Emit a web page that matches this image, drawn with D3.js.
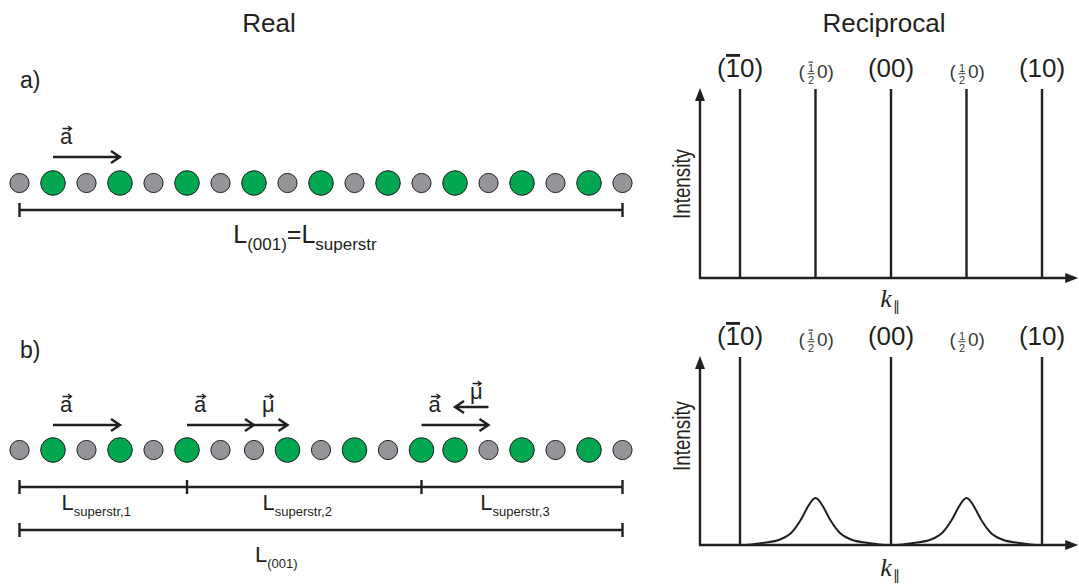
<!DOCTYPE html>
<html>
<head>
<meta charset="utf-8">
<script src="https://cdn.jsdelivr.net/npm/d3@7"></script>
<style>
  body { margin: 0; background: #fff; }
  svg { display: block; }
</style>
</head>
<body>
<svg id="fig" width="1079" height="584"></svg>
<script>
// ---------- data ----------
// site occupation along the chain: 0 = small grey atom, 1 = large green atom
const sitesA = [0, 1, 0, 1, 0, 1, 0, 1, 0, 1, 0, 1, 0, 1, 0, 1, 0, 1, 0];
const sitesB = [0, 1, 0, 1, 0, 1, 0, 0, 1, 0, 1, 0, 1, 1, 0, 1, 0, 1, 0];
// superstructure domain boundaries (site index) in the faulted chain
const domainBounds = [0, 5, 12, 18];
const domainNames = ["superstr,1", "superstr,2", "superstr,3"];
// translation vectors drawn above each chain (from site, to site, symbol)
const vectorsA = [{ from: 1, to: 3, sym: "a" }];
const vectorsB = [
  { from: 1, to: 3, sym: "a" },
  { from: 5, to: 7, sym: "a" },
  { from: 7, to: 8, sym: "\u03bc" },
  { from: 12, to: 14, sym: "a" },
  { from: 14, to: 13, sym: "\u03bc", raised: true }
];
// reciprocal-space rods, k in reciprocal lattice units
const rodK = [-1, -0.5, 0, 0.5, 1];
const rodH = ["1", "1", "0", "1", "1"];
const rodNegative = [true, true, false, false, false];
const rodHalf = [false, true, false, true, false];
const rodIntensityA = [1, 1, 1, 1, 1];
const rodIntensityB = [1, 0, 1, 0, 1];
// diffuse half-order peaks of the faulted chain
const diffuseK = [-0.5, 0.5];
const diffuseOffset = [-0.46, -0.34, -0.24, -0.16, -0.1, -0.06, -0.03, 0, 0.03, 0.06, 0.1, 0.16, 0.24, 0.34, 0.46];
const diffuseValue  = [0, 0.012, 0.028, 0.065, 0.13, 0.19, 0.23, 0.25, 0.23, 0.19, 0.13, 0.065, 0.028, 0.012, 0];
const kExtent = [-1.265, 1.24];
const intensityTop = 1;

// ---------- setup ----------
const svg = d3.select("#fig");
const ink = "#231f20";
const sans = "'Liberation Sans', Arial, sans-serif";
const serif = "'Liberation Serif', 'Times New Roman', serif";

function label(x, y, txt, size, opts = {}) {
  return svg.append("text")
    .attr("x", x).attr("y", y)
    .attr("font-family", opts.family || sans)
    .attr("font-size", size)
    .attr("text-anchor", opts.anchor || "start")
    .attr("fill", opts.fill || ink)
    .text(txt);
}

// titles
label(269, 32, "Real", 26, { anchor: "middle" });
label(884, 32, "Reciprocal", 26, { anchor: "middle" });
label(20, 88, "a)", 23);
label(20, 358, "b)", 23);

// ---------- real space ----------
const xSite = d3.scaleLinear().domain([0, sitesA.length - 1]).range([19.5, 622.5]);
const atomR = d3.scaleOrdinal().domain([0, 1]).range([9.6, 12.3]);
const atomFill = d3.scaleOrdinal().domain([0, 1]).range(["#939598", "#00a650"]);

function chain(sites, y) {
  svg.append("g").selectAll("circle").data(sites).join("circle")
    .attr("cx", (d, i) => xSite(i))
    .attr("cy", y)
    .attr("r", d => atomR(d))
    .attr("fill", d => atomFill(d))
    .attr("stroke", ink)
    .attr("stroke-width", 1);
}

function openArrow(x1, x2, y) {
  const dir = Math.sign(x2 - x1), h = 9, w = 6;
  svg.append("path")
    .attr("d", `M${x1},${y}H${x2}M${x2 - dir * h},${y - w}L${x2},${y}L${x2 - dir * h},${y + w}`)
    .attr("fill", "none").attr("stroke", ink).attr("stroke-width", 2.4);
}

function vecSymbol(x, y, sym) {
  const t = label(x, y, sym, 22);
  const b = t.node().getBBox();
  const ay = y - 15.5, x0 = b.x + 2.5, x1 = b.x + b.width - 1.5;
  svg.append("path")
    .attr("d", `M${x0},${ay}H${x1}M${x1 - 3.5},${ay - 2.6}L${x1},${ay}L${x1 - 3.5},${ay + 2.6}`)
    .attr("fill", "none").attr("stroke", ink).attr("stroke-width", 1.3);
}

function vectors(list, y) {
  list.forEach(v => {
    const ay = v.raised ? y - 18 : y;
    openArrow(xSite(v.from), xSite(v.to), ay);
    let lx;
    if (v.raised) lx = xSite(v.to) + 15;
    else if (v.sym === "a") lx = xSite(v.from) + 7;
    else lx = xSite(v.from) + 8;
    vecSymbol(lx, v.raised ? ay - 8 : ay - 13, v.sym);
  });
}

function scaleBar(bounds, y) {
  let d = `M${xSite(bounds[0])},${y}H${xSite(bounds[bounds.length - 1])}`;
  bounds.forEach(b => { d += `M${xSite(b)},${y - 7}V${y + 7}`; });
  svg.append("path").attr("d", d).attr("fill", "none").attr("stroke", ink).attr("stroke-width", 2.4);
}

// length label: alternating normal / subscript parts
function lengthLabel(x, y, parts, anchor, big = 22, small = 13, shift = 6) {
  const t = svg.append("text")
    .attr("x", x).attr("y", y)
    .attr("font-family", sans).attr("fill", ink)
    .attr("text-anchor", anchor);
  let shifted = false;
  parts.forEach(([s, sub]) => {
    const dy = sub && !shifted ? shift : (!sub && shifted ? -shift : 0);
    shifted = sub;
    t.append("tspan").attr("dy", dy).attr("font-size", sub ? small : big).text(s);
  });
  return t;
}

// a) ordered chain
chain(sitesA, 183);
vectors(vectorsA, 157);
scaleBar([0, sitesA.length - 1], 210);
lengthLabel(305, 243, [["L", false], ["(001)", true], ["=L", false], ["superstr", true]], "middle", 25, 17, 6.5);

// b) chain with stacking faults
chain(sitesB, 450);
vectors(vectorsB, 425);
scaleBar(domainBounds, 487);
domainNames.forEach((n, i) => {
  const mid = (xSite(domainBounds[i]) + xSite(domainBounds[i + 1])) / 2;
  lengthLabel(mid - 7, 510, [["L", false], [n, true]], "middle");
});
scaleBar([0, sitesB.length - 1], 530);
lengthLabel(xSite(7) + 1, 562, [["L", false], ["(001)", true]], "start");

// ---------- reciprocal space ----------
const xk = d3.scaleLinear().domain([-1, 1]).range([740, 1042]);
const panels = [
  { y: d3.scaleLinear().domain([0, 1]).range([278, 89]), rods: rodIntensityA, diffuse: false, kY: 307, intY: 184 },
  { y: d3.scaleLinear().domain([0, 1]).range([545, 357]), rods: rodIntensityB, diffuse: true, kY: 576, intY: 436 }
];

panels.forEach(p => {
  const g = svg.append("g");
  const x0 = xk(kExtent[0]), x1 = xk(kExtent[1]);
  const y0 = p.y(0), yTip = p.y(intensityTop) - 1;
  // axes with filled arrowheads
  g.append("path")
    .attr("d", `M${x0},${y0 + 1.2}V${yTip + 10}M${x0 - 1.2},${y0}H${x1 - 10}`)
    .attr("stroke", ink).attr("stroke-width", 2.4).attr("fill", "none");
  g.append("path").attr("d", `M${x0},${yTip}L${x0 - 5},${yTip + 13}L${x0 + 5},${yTip + 13}Z`).attr("fill", ink);
  g.append("path").attr("d", `M${x1},${y0}L${x1 - 13},${y0 - 5}L${x1 - 13},${y0 + 5}Z`).attr("fill", ink);

  // sharp rods
  g.selectAll("line.rod").data(rodK.map((k, i) => ({ k, v: p.rods[i] })).filter(d => d.v > 0))
    .join("line").attr("class", "rod")
    .attr("x1", d => xk(d.k)).attr("x2", d => xk(d.k))
    .attr("y1", y0).attr("y2", d => p.y(d.v))
    .attr("stroke", ink).attr("stroke-width", 2.4);

  // diffuse half-order peaks
  if (p.diffuse) {
    const line = d3.line().x(d => xk(d[0])).y(d => p.y(d[1])).curve(d3.curveMonotoneX);
    diffuseK.forEach(c => {
      g.append("path")
        .attr("d", line(diffuseOffset.map((o, i) => [c + o, diffuseValue[i]])))
        .attr("fill", "none").attr("stroke", ink).attr("stroke-width", 2);
    });
  }

  // reflection labels
  const by = p.y(1) - 12;
  rodK.forEach((k, i) => {
    const cx = xk(k);
    if (!rodHalf[i]) {
      const t = g.append("text").attr("x", cx).attr("y", by)
        .attr("text-anchor", "middle").attr("font-family", sans).attr("font-size", 26)
        .attr("fill", ink).text(`(${rodH[i]}0)`);
      if (rodNegative[i]) {
        const e = t.node().getExtentOfChar(1);
        g.append("rect").attr("x", e.x + 0.5).attr("y", by - 23)
          .attr("width", e.width - 0.5).attr("height", 2.8).attr("fill", ink);
      }
    } else {
      const sy = by + 1, col = "#3a3a3a";
      g.append("text").attr("x", cx - 17).attr("y", sy).attr("font-family", sans)
        .attr("font-size", 19).attr("fill", col).text("(");
      g.append("text").attr("x", cx - 4.5).attr("y", sy - 6.5).attr("text-anchor", "middle")
        .attr("font-family", sans).attr("font-size", 11).attr("fill", col).text(rodH[i]);
      if (rodNegative[i]) {
        g.append("rect").attr("x", cx - 7).attr("y", sy - 16.5).attr("width", 4.5)
          .attr("height", 1.2).attr("fill", col);
      }
      g.append("line").attr("x1", cx - 8).attr("x2", cx - 1)
        .attr("y1", sy - 4.3).attr("y2", sy - 4.3).attr("stroke", col).attr("stroke-width", 1);
      g.append("text").attr("x", cx - 4.5).attr("y", sy + 5.5).attr("text-anchor", "middle")
        .attr("font-family", sans).attr("font-size", 11).attr("fill", col).text("2");
      g.append("text").attr("x", cx + 1.5).attr("y", sy).attr("font-family", sans)
        .attr("font-size", 19).attr("fill", col).text("0)");
    }
  });

  // axis titles
  g.append("text")
    .attr("transform", `translate(${x0 - 10},${p.intY}) rotate(-90)`)
    .attr("text-anchor", "middle").attr("font-family", sans).attr("font-size", 23)
    .attr("textLength", 70).attr("lengthAdjust", "spacingAndGlyphs")
    .attr("fill", ink).text("Intensity");
  const kl = g.append("text").attr("x", xk(0) - 1).attr("y", p.kY)
    .attr("text-anchor", "middle").attr("font-family", serif).attr("fill", ink);
  kl.append("tspan").attr("font-size", 26).attr("font-style", "italic").text("k");
  kl.append("tspan").attr("font-size", 14).attr("dy", 4).attr("dx", 1).text("\u2225");
});
</script>
</body>
</html>
